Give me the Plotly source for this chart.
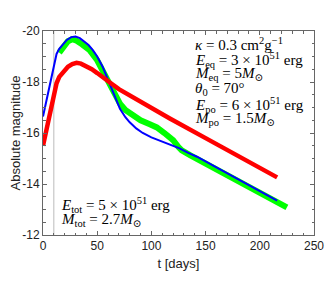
import plotly.graph_objects as go

# --- data ---
blue_t = [0, 12.5, 15, 18, 22, 26, 30, 34, 38, 42, 46, 50, 55, 60, 62, 66, 71, 76, 80, 86, 92, 100, 108, 114, 120, 126, 134, 142, 160, 180, 200, 216]
blue_m = [-16.65, -19.1, -19.3, -19.47, -19.65, -19.76, -19.78, -19.72, -19.6, -19.45, -19.25, -19.0, -18.6, -18.1, -17.92, -17.45, -16.95, -16.62, -16.42, -16.18, -16.0, -15.83, -15.7, -15.62, -15.52, -15.4, -15.22, -15.07, -14.65, -14.18, -13.72, -13.35]

green_t = [15, 19, 23, 27, 31, 36, 43, 50, 55, 60, 62, 66, 71, 76, 83, 90, 98, 105, 112, 120, 125, 128, 136, 150, 170, 190, 210, 225]
green_m = [-19.15, -19.4, -19.6, -19.68, -19.62, -19.48, -19.25, -18.85, -18.45, -18.05, -17.92, -17.55, -17.15, -16.9, -16.67, -16.5, -16.35, -16.22, -16.0, -15.72, -15.45, -15.32, -15.12, -14.8, -14.33, -13.88, -13.43, -13.08]

red_t = [0, 12.5, 15, 19, 23, 27, 31, 35, 40, 45, 50, 56, 62, 70, 80, 90, 100, 117, 150, 180, 216]
red_m = [-15.5, -17.95, -18.2, -18.42, -18.6, -18.7, -18.75, -18.72, -18.62, -18.5, -18.35, -18.18, -17.97, -17.72, -17.47, -17.2, -16.97, -16.57, -15.8, -15.1, -14.26]

ref_t = 10  # vertical reference line

x_ticks = [0, 50, 100, 150, 200, 250]
y_ticks = [-20, -18, -16, -14, -12]
y_ticktext = ["-20", "-18", "-16", "-14", "-12"]

params_text = [
    "<i>κ</i> = 0.3 cm<sup>2</sup>g<sup>−1</sup>",
    "<i>E</i><sub>eq</sub> = 3 × 10<sup>51</sup> erg",
    "<i>M</i><sub>eq</sub> = 5<i>M</i><sub>⊙</sub>",
    "<i>θ</i><sub>0</sub> = 70°",
    "<i>E</i><sub>po</sub> = 6 × 10<sup>51</sup> erg",
    "<i>M</i><sub>po</sub> = 1.5<i>M</i><sub>⊙</sub>",
]
tot_text = [
    "<i>E</i><sub>tot</sub> = 5 × 10<sup>51</sup> erg",
    "<i>M</i><sub>tot</sub> = 2.7<i>M</i><sub>⊙</sub>",
]

fig = go.Figure()
fig.add_trace(go.Scatter(x=green_t, y=green_m, mode="lines", line=dict(color="#00ff00", width=6), showlegend=False))
fig.add_trace(go.Scatter(x=blue_t, y=blue_m, mode="lines", line=dict(color="#0000ff", width=2), showlegend=False))
fig.add_trace(go.Scatter(x=red_t, y=red_m, mode="lines", line=dict(color="#ff0000", width=4.5), showlegend=False))

fig.add_vline(x=ref_t, line=dict(color="#bbbbbb", width=1), layer="below")

serif = "Liberation Serif, DejaVu Serif, serif"
for i, s in enumerate(params_text):
    fig.add_annotation(xref="paper", yref="paper", x=0.555, y=0.99 - i * 0.0735, xanchor="left", yanchor="top",
                       text=s, showarrow=False, font=dict(family=serif, size=15, color="black"))
for i, s in enumerate(tot_text):
    fig.add_annotation(xref="paper", yref="paper", x=0.058, y=0.205 - i * 0.0785, xanchor="left", yanchor="top",
                       text=s, showarrow=False, font=dict(family=serif, size=15, color="black"))

sans = "Liberation Sans, Arial, sans-serif"
axis_common = dict(showline=True, linecolor="#666666", linewidth=1, mirror="allticks", ticks="inside",
                   ticklen=4, tickcolor="#666666", showgrid=False, zeroline=False, automargin=False,
                   tickfont=dict(family=sans, size=12, color="#222222"))

fig.update_xaxes(range=[0, 250], tickvals=x_ticks,
                 minor=dict(dtick=10, ticks="inside", ticklen=2.5, tickcolor="#666666"),
                 title=dict(text="t [days]", font=dict(family=sans, size=13, color="#222222"), standoff=6),
                 **axis_common)
fig.update_yaxes(range=[-12, -20], tickvals=y_ticks, ticktext=y_ticktext,
                 minor=dict(dtick=0.5, ticks="inside", ticklen=2.5, tickcolor="#666666"),
                 title=dict(text="Absolute magnitude", font=dict(family=sans, size=13, color="#222222"), standoff=4),
                 **axis_common)

# page body has an 8px default margin; size/margins compensate for it
fig.update_layout(width=326, height=276, margin=dict(l=35, r=20, t=23, b=49),
                  plot_bgcolor="white", paper_bgcolor="white")

fig.write_html("out.html")
